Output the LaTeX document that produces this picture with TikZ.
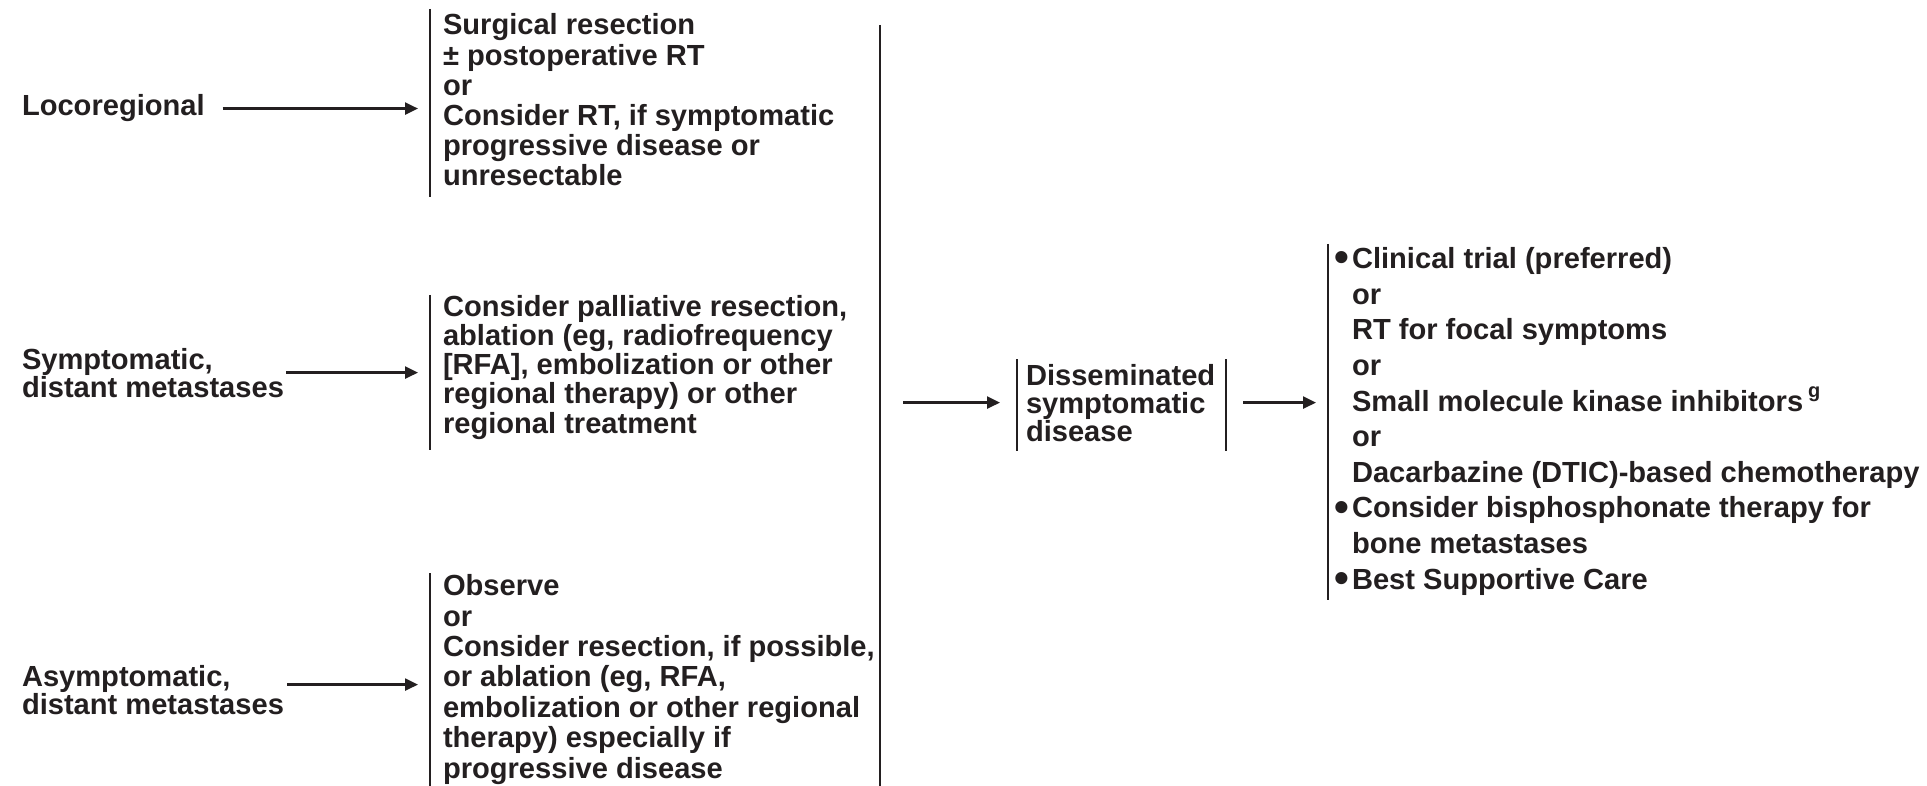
\documentclass[tikz,border=0pt]{standalone}
\usepackage{fontspec}
\usepackage{graphicx}
\setmainfont{Liberation Sans}
\usetikzlibrary{arrows.meta}
\definecolor{ink}{HTML}{231F20}
\newcommand\bul{\makebox[9pt][l]{\raisebox{-1.6pt}{\scalebox{1.45}{\textbullet}}}}
\newcommand\nob{\hspace*{9pt}}
\tikzset{
  txt/.style={anchor=base west, inner sep=0pt, outer sep=0pt, align=left, text=ink,
    font=\fontsize{14.55pt}{#1}\selectfont\bfseries},
  txt/.default=15pt,
  arr/.style={draw=ink, line width=1.2pt, -{Triangle[length=6.5pt,width=6pt]}},
  brk/.style={draw=ink, line width=1pt},
}
\begin{document}
\begin{tikzpicture}[x=0.5pt,y=-0.5pt]
\useasboundingbox (0,0) rectangle (1927,786);
% left labels (anchored at the baseline of their last line)
\node[txt=14pt] (loco) at (22,116) {Locoregional};
\node[txt=14pt] (sym) at (22,397) {Symptomatic,\\distant metastases};
\node[txt=14pt] (asym) at (22,714) {Asymptomatic,\\distant metastases};
% treatment boxes
\node[txt=15.1pt] (box1) at (443,186) {Surgical resection\\\textpm\ postoperative RT\\or\\Consider RT, if symptomatic\\progressive disease or\\unresectable};
\node[txt=14.6pt] (box2) at (443,433) {Consider palliative resection,\\ablation (eg, radiofrequency\\{[RFA]}, embolization or other\\regional therapy) or other\\regional treatment};
\node[txt=15.2pt] (box3) at (443,778) {Observe\\or\\Consider resection, if possible,\\or ablation (eg, RFA,\\embolization or other regional\\therapy) especially if\\progressive disease};
\node[txt=14pt] (dis) at (1026,441) {Disseminated\\symptomatic\\disease};
\node[txt=17.8pt] (rbox) at (1334,589) {\bul Clinical trial (preferred)\\\nob or\\\nob RT for focal symptoms\\\nob or\\\nob Small molecule kinase inhibitors\,\raisebox{0.45em}{\fontsize{10pt}{10pt}\selectfont g}\\\nob or\\\nob Dacarbazine (DTIC)-based chemotherapy\\\bul Consider bisphosphonate therapy for\\\nob bone metastases\\\bul Best Supportive Care};
% bracket coordinates
\coordinate (b1t) at (430,9);   \coordinate (b1b) at (430,197);
\coordinate (b2t) at (430,295); \coordinate (b2b) at (430,450);
\coordinate (b3t) at (430,573); \coordinate (b3b) at (430,786);
\coordinate (vt) at (880,25);   \coordinate (vb) at (880,786);
\coordinate (dlt) at (1017,359); \coordinate (dlb) at (1017,451);
\coordinate (drt) at (1226,359); \coordinate (drb) at (1226,451);
\coordinate (rt) at (1328,244); \coordinate (rb) at (1328,600);
% brackets
\draw[brk] (b1t) -- (b1b);
\draw[brk] (b2t) -- (b2b);
\draw[brk] (b3t) -- (b3b);
\draw[brk] (vt) -- (vb);
\draw[brk] (dlt) -- (dlb);
\draw[brk] (drt) -- (drb);
\draw[brk] (rt) -- (rb);
% arrows
\draw[arr, shorten <=9pt, shorten >=6pt] (loco.east) -- (loco.east -| b1t);
\draw[arr, shorten <=1pt, shorten >=6pt] (sym.east) -- (sym.east -| b2t);
\draw[arr, shorten <=1.5pt, shorten >=6pt] ([yshift=2.5pt]asym.east) -- ([yshift=2.5pt]asym.east -| b3t);
\draw[arr, shorten <=11.5pt, shorten >=8.5pt] (dis.west -| vt) -- (dis.west -| dlt);
\draw[arr, shorten <=8.5pt, shorten >=6pt] (dis.east -| drt) -- (dis.east -| rt);
\end{tikzpicture}
\end{document}
